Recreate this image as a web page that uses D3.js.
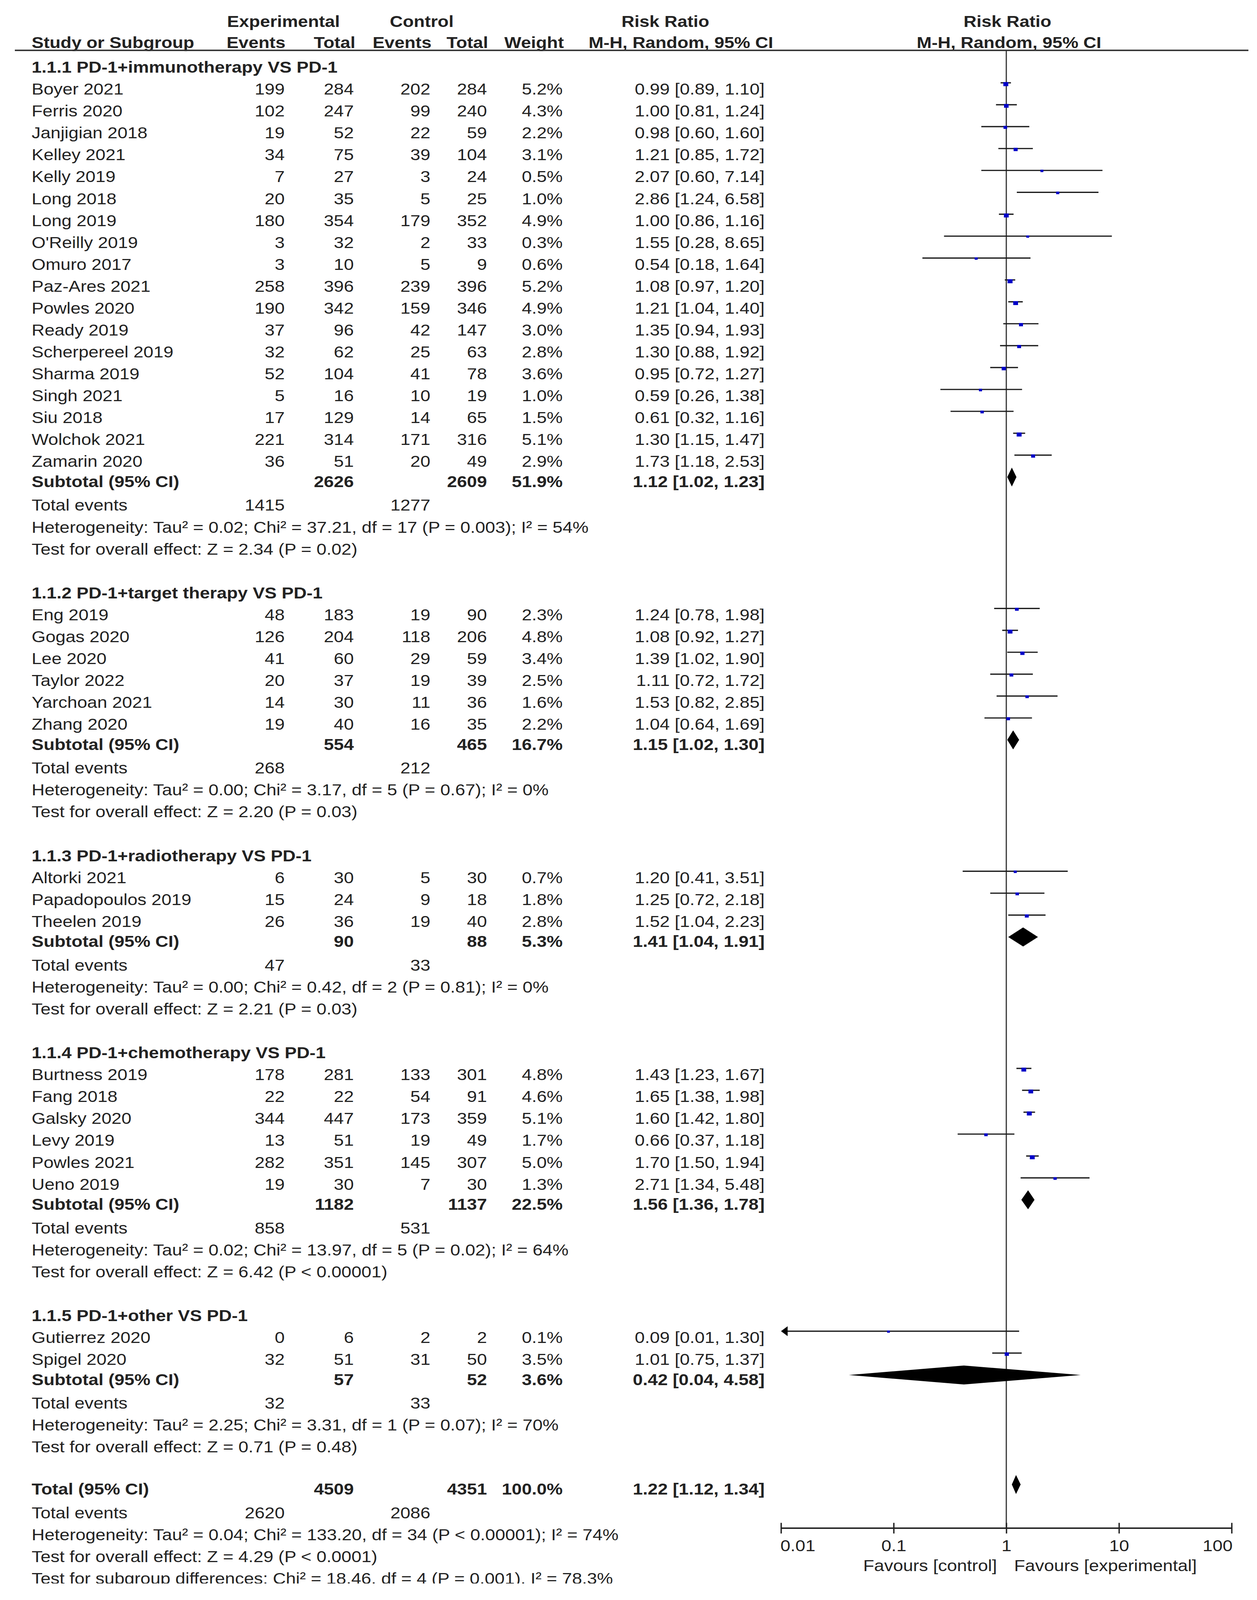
<!DOCTYPE html>
<html><head><meta charset="utf-8">
<script src="https://cdn.jsdelivr.net/npm/d3@7"></script>
<style>
html,body{margin:0;padding:0;background:#fff;overflow:hidden;}
text{font-family:"Liberation Sans",Arial,Helvetica,sans-serif;}
</style>
</head><body>
<svg id="chart"></svg>
<script>
// ---------------- DATA ----------------
const subgroupTitles = [
  "1.1.1 PD-1+immunotherapy VS PD-1",
  "1.1.2 PD-1+target therapy VS PD-1",
  "1.1.3 PD-1+radiotherapy VS PD-1",
  "1.1.4 PD-1+chemotherapy VS PD-1",
  "1.1.5 PD-1+other VS PD-1"
];
const studyNames = ["Boyer 2021","Ferris 2020","Janjigian 2018","Kelley 2021","Kelly 2019","Long 2018","Long 2019","O'Reilly 2019","Omuro 2017","Paz-Ares 2021","Powles 2020","Ready 2019","Scherpereel 2019","Sharma 2019","Singh 2021","Siu 2018","Wolchok 2021","Zamarin 2020",
  "Eng 2019","Gogas 2020","Lee 2020","Taylor 2022","Yarchoan 2021","Zhang 2020",
  "Altorki 2021","Papadopoulos 2019","Theelen 2019",
  "Burtness 2019","Fang 2018","Galsky 2020","Levy 2019","Powles 2021","Ueno 2019",
  "Gutierrez 2020","Spigel 2020"];
const studyGroup = [0,0,0,0,0,0,0,0,0,0,0,0,0,0,0,0,0,0, 1,1,1,1,1,1, 2,2,2, 3,3,3,3,3,3, 4,4];
const expEvents = [199,102,19,34,7,20,180,3,3,258,190,37,32,52,5,17,221,36, 48,126,41,20,14,19, 6,15,26, 178,22,344,13,282,19, 0,32];
const expTotals = [284,247,52,75,27,35,354,32,10,396,342,96,62,104,16,129,314,51, 183,204,60,37,30,40, 30,24,36, 281,22,447,51,351,30, 6,51];
const ctlEvents = [202,99,22,39,3,5,179,2,5,239,159,42,25,41,10,14,171,20, 19,118,29,19,11,16, 5,9,19, 133,54,173,19,145,7, 2,31];
const ctlTotals = [284,240,59,104,24,25,352,33,9,396,346,147,63,78,19,65,316,49, 90,206,59,39,36,35, 30,18,40, 301,91,359,49,307,30, 2,50];
const weights = [5.2,4.3,2.2,3.1,0.5,1.0,4.9,0.3,0.6,5.2,4.9,3.0,2.8,3.6,1.0,1.5,5.1,2.9, 2.3,4.8,3.4,2.5,1.6,2.2, 0.7,1.8,2.8, 4.8,4.6,5.1,1.7,5.0,1.3, 0.1,3.5];
const riskRatio = [0.99,1.00,0.98,1.21,2.07,2.86,1.00,1.55,0.54,1.08,1.21,1.35,1.30,0.95,0.59,0.61,1.30,1.73, 1.24,1.08,1.39,1.11,1.53,1.04, 1.20,1.25,1.52, 1.43,1.65,1.60,0.66,1.70,2.71, 0.09,1.01];
const ciLow = [0.89,0.81,0.60,0.85,0.60,1.24,0.86,0.28,0.18,0.97,1.04,0.94,0.88,0.72,0.26,0.32,1.15,1.18, 0.78,0.92,1.02,0.72,0.82,0.64, 0.41,0.72,1.04, 1.23,1.38,1.42,0.37,1.50,1.34, 0.01,0.75];
const ciHigh = [1.10,1.24,1.60,1.72,7.14,6.58,1.16,8.65,1.64,1.20,1.40,1.93,1.92,1.27,1.38,1.16,1.47,2.53, 1.98,1.27,1.90,1.72,2.85,1.69, 3.51,2.18,2.23, 1.67,1.98,1.80,1.18,1.94,5.48, 1.30,1.37];

const subExpTotal = [2626,554,90,1182,57];
const subCtlTotal = [2609,465,88,1137,52];
const subWeight = [51.9,16.7,5.3,22.5,3.6];
const subRR = [1.12,1.15,1.41,1.56,0.42];
const subLow = [1.02,1.02,1.04,1.36,0.04];
const subHigh = [1.23,1.30,1.91,1.78,4.58];
const subExpEvents = [1415,268,47,858,32];
const subCtlEvents = [1277,212,33,531,33];
const subHet = [
  "Heterogeneity: Tau² = 0.02; Chi² = 37.21, df = 17 (P = 0.003); I² = 54%",
  "Heterogeneity: Tau² = 0.00; Chi² = 3.17, df = 5 (P = 0.67); I² = 0%",
  "Heterogeneity: Tau² = 0.00; Chi² = 0.42, df = 2 (P = 0.81); I² = 0%",
  "Heterogeneity: Tau² = 0.02; Chi² = 13.97, df = 5 (P = 0.02); I² = 64%",
  "Heterogeneity: Tau² = 2.25; Chi² = 3.31, df = 1 (P = 0.07); I² = 70%"
];
const subTest = [
  "Test for overall effect: Z = 2.34 (P = 0.02)",
  "Test for overall effect: Z = 2.20 (P = 0.03)",
  "Test for overall effect: Z = 2.21 (P = 0.03)",
  "Test for overall effect: Z = 6.42 (P < 0.00001)",
  "Test for overall effect: Z = 0.71 (P = 0.48)"
];
const totalValues = [4509, 4351, 100.0, 1.22, 1.12, 1.34];   // expTotal, ctlTotal, weight, RR, low, high
const totalEvents = [2620, 2086];
const totalNotes = [
  "Heterogeneity: Tau² = 0.04; Chi² = 133.20, df = 34 (P < 0.00001); I² = 74%",
  "Test for overall effect: Z = 4.29 (P < 0.0001)",
  "Test for subgroup differences: Chi² = 18.46, df = 4 (P = 0.001), I² = 78.3%"
];
const axisTicks = [0.01, 0.1, 1, 10, 100];
const axisTickLabels = ["0.01", "0.1", "1", "10", "100"];
const favourLabels = ["Favours [control]", "Favours [experimental]"];

// ---------------- LAYOUT ----------------
const W = 3219, H = 4544;
const FS = 46;
const vw = window.innerWidth || W, vh = window.innerHeight || H;
const svg = d3.select("#chart")
  .attr("width", vw).attr("height", vh)
  .attr("viewBox", `0 0 ${W} ${H}`)
  .attr("preserveAspectRatio", "none")
  .style("display","block").style("background","#fff");
svg.append("rect").attr("width", W).attr("height", H).attr("fill", "#fff");
svg.append("defs").append("clipPath").attr("id","pageclip")
  .append("rect").attr("x",0).attr("y",0).attr("width",W).attr("height",4497);
const g = svg.append("g").attr("clip-path","url(#pageclip)");

// Build the row list
const rows = [];
subgroupTitles.forEach((t, gi) => {
  rows.push({type:"header", g:gi});
  studyNames.forEach((n, i) => { if (studyGroup[i] === gi) rows.push({type:"study", i}); });
  rows.push({type:"subtotal", g:gi});
  rows.push({type:"events", g:gi});
  rows.push({type:"het", g:gi});
  rows.push({type:"test", g:gi});
  rows.push({type:"blank"});
});
rows.push({type:"total"});
rows.push({type:"totalEvents"});
rows.push({type:"note", k:0});
rows.push({type:"note", k:1});
rows.push({type:"note", k:2});

const y = d3.scaleLinear().domain([0, rows.length - 1]).range([190, 190 + (rows.length - 1) * 62.2]);
const x = d3.scaleLog().domain([0.01, 100]).range([2000, 3154]);

const col = {label:81, expEv:729, expTot:906, ctlEv:1102, ctlTot:1247, weight:1441, ci:1958};
const TXT = "#222";

function txt(xp, yp, s, anchor, bold) {
  return g.append("text").attr("x", xp).attr("y", yp).text(s)
    .attr("text-anchor", anchor || "start")
    .attr("font-size", FS).attr("fill", TXT)
    .attr("font-weight", bold ? "bold" : "normal");
}
const fmt2 = d3.format(".2f");
const fmtW = d3.format(".1f");
const ciStr = (r, l, h) => `${fmt2(r)} [${fmt2(l)}, ${fmt2(h)}]`;

// ---------------- HEADER ----------------
txt(726, 77, "Experimental", "middle", true);
txt(1080, 77, "Control", "middle", true);
txt(1704, 77, "Risk Ratio", "middle", true);
txt(2580, 77, "Risk Ratio", "middle", true);
txt(col.label, 137, "Study or Subgroup", "start", true);
txt(731, 137, "Events", "end", true);
txt(910, 137, "Total", "end", true);
txt(1105, 137, "Events", "end", true);
txt(1250, 137, "Total", "end", true);
txt(1444, 137, "Weight", "end", true);
txt(1980, 137, "M-H, Random, 95% CI", "end", true);
txt(2584, 137, "M-H, Random, 95% CI", "middle", true);

g.append("line").attr("x1", 38).attr("x2", 3197).attr("y1", 143).attr("y2", 143)
  .attr("stroke", "#333").attr("stroke-width", 4);

// ---------------- NULL LINE ----------------
g.append("line").attr("x1", x(1)).attr("x2", x(1)).attr("y1", 143).attr("y2", 4340)
  .attr("stroke", "#333").attr("stroke-width", 3);

// ---------------- ROWS ----------------
const BASE = 16.5, PLOT = -17, SUBOFF = -5, DH = 27;
function diamond(yc, r, l, h) {
  const pts = [[x(l), yc], [x(r), yc - DH], [x(h), yc], [x(r), yc + DH]];
  g.append("polygon").attr("points", pts.map(p => p.join(",")).join(" ")).attr("fill", "#000");
}

rows.forEach((row, ri) => {
  const yc = y(ri);
  const yb = yc + BASE;
  if (row.type === "header") {
    txt(col.label, yb, subgroupTitles[row.g], "start", true);
  } else if (row.type === "study") {
    const i = row.i;
    txt(col.label, yb, studyNames[i]);
    txt(col.expEv, yb, expEvents[i], "end");
    txt(col.expTot, yb, expTotals[i], "end");
    txt(col.ctlEv, yb, ctlEvents[i], "end");
    txt(col.ctlTot, yb, ctlTotals[i], "end");
    txt(col.weight, yb, fmtW(weights[i]) + "%", "end");
    txt(col.ci, yb, ciStr(riskRatio[i], ciLow[i], ciHigh[i]), "end");
    const ly = yc + PLOT;
    const lo = Math.max(ciLow[i], 0.01), hi = Math.min(ciHigh[i], 100);
    const arrowL = ciLow[i] <= 0.01;
    g.append("line").attr("x1", x(lo) + (arrowL ? 12 : 0)).attr("x2", x(hi)).attr("y1", ly).attr("y2", ly)
      .attr("stroke", "#1a1a1a").attr("stroke-width", 3.5);
    if (arrowL) {
      g.append("polygon")
        .attr("points", [[x(lo), ly], [x(lo) + 17, ly - 14], [x(lo) + 17, ly + 14]].map(p => p.join(",")).join(" "))
        .attr("fill", "#000");
    }
    const sw = 7 + weights[i] * 1.1, sh = sw * 0.9;
    g.append("rect").attr("x", x(riskRatio[i]) - sw / 2).attr("y", ly - 2)
      .attr("width", sw).attr("height", sh).attr("fill", "#0000c8");
  } else if (row.type === "subtotal") {
    const k = row.g, b = yb + SUBOFF;
    txt(col.label, b, "Subtotal (95% CI)", "start", true);
    txt(col.expTot, b, subExpTotal[k], "end", true);
    txt(col.ctlTot, b, subCtlTotal[k], "end", true);
    txt(col.weight, b, fmtW(subWeight[k]) + "%", "end", true);
    txt(col.ci, b, ciStr(subRR[k], subLow[k], subHigh[k]), "end", true);
    diamond(yc + PLOT, subRR[k], subLow[k], subHigh[k]);
  } else if (row.type === "events") {
    txt(col.label, yb, "Total events");
    txt(col.expEv, yb, subExpEvents[row.g], "end");
    txt(col.ctlEv, yb, subCtlEvents[row.g], "end");
  } else if (row.type === "het") {
    txt(col.label, yb, subHet[row.g]);
  } else if (row.type === "test") {
    txt(col.label, yb, subTest[row.g]);
  } else if (row.type === "total") {
    const b = yb + SUBOFF;
    txt(col.label, b, "Total (95% CI)", "start", true);
    txt(col.expTot, b, totalValues[0], "end", true);
    txt(col.ctlTot, b, totalValues[1], "end", true);
    txt(col.weight, b, fmtW(totalValues[2]) + "%", "end", true);
    txt(col.ci, b, ciStr(totalValues[3], totalValues[4], totalValues[5]), "end", true);
    diamond(yc + PLOT, totalValues[3], totalValues[4], totalValues[5]);
  } else if (row.type === "totalEvents") {
    txt(col.label, yb, "Total events");
    txt(col.expEv, yb, totalEvents[0], "end");
    txt(col.ctlEv, yb, totalEvents[1], "end");
  } else if (row.type === "note") {
    txt(col.label, yb, totalNotes[row.k]);
  }
});

// ---------------- AXIS ----------------
const AX = 4340;
const axis = d3.axisBottom(x).tickValues(axisTicks).tickSize(0).tickFormat("");
const ag = g.append("g").attr("transform", `translate(0,${AX})`).call(axis);
ag.select(".domain").attr("stroke", "#222").attr("stroke-width", 4).attr("d", `M${x(0.01)},0H${x(100)}`);
ag.selectAll(".tick line").attr("y1", -15).attr("y2", 15).attr("stroke", "#222").attr("stroke-width", 3.5);
ag.selectAll(".tick").each(function(d, i) {
  const anchor = i === 0 ? "start" : (i === axisTicks.length - 1 ? "end" : "middle");
  const dx = i === 0 ? -2 : (i === axisTicks.length - 1 ? 2 : 0);
  d3.select(this).append("text").attr("x", dx).attr("y", 65).attr("text-anchor", anchor)
    .attr("font-size", FS).attr("fill", TXT).text(axisTickLabels[i]);
});
txt(x(1) - 24, 4462, favourLabels[0], "end");
txt(x(1) + 20, 4462, favourLabels[1], "start");
</script>
</body></html>
